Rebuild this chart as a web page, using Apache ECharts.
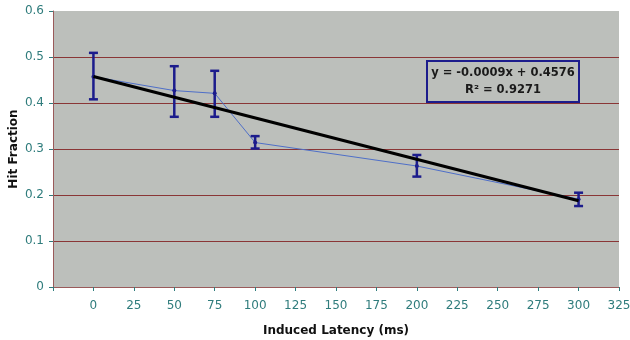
<!DOCTYPE html>
<html>
<head>
<meta charset="utf-8">
<script src="https://cdn.jsdelivr.net/npm/echarts@6/dist/echarts.min.js"></script>
<style>
  html, body { margin: 0; padding: 0; background: #fff; }
  #main { width: 630px; height: 340px; }
</style>
</head>
<body>
<div id="main"></div>
<script>
// latency values (ms) and measured hit fraction
const latency = [0, 50, 75, 100, 200, 300];
const hitFraction = [0.457, 0.427, 0.421, 0.314, 0.263, 0.191];
const errLow = [0.408, 0.370, 0.370, 0.301, 0.240, 0.176];
const errHigh = [0.509, 0.480, 0.470, 0.328, 0.287, 0.205];
// linear trend line endpoints
const trendX = [0, 300];
const trendY = [0.4576, 0.1876];
const equationText = ['y = -0.0009x + 0.4576', 'R² = 0.9271'];

const tealText = '#2f7c7c';
const gridRed = '#8a3636';

let myChart = echarts.init(document.getElementById('main'));

let option = {
  backgroundColor: '#fff',
  animation: false,
  grid: {
    left: 53,
    top: 11,
    right: 11,
    bottom: 53,
    outerBoundsMode: 'none',
    containLabel: false,
    show: true,
    backgroundColor: '#bcbfbb',
    borderWidth: 0
  },
  xAxis: {
    type: 'value',
    min: -25,
    max: 325,
    interval: 25,
    name: 'Induced Latency (ms)',
    nameLocation: 'middle',
    nameGap: 38,
    nameTextStyle: { fontFamily: 'DejaVu Sans', fontWeight: 'bold', fontSize: 12, color: '#111' },
    axisLine: { show: true, onZero: false, lineStyle: { color: '#9a5a5a', width: 1 } },
    axisTick: { show: true, length: 4, lineStyle: { color: tealText } },
    axisLabel: {
      margin: 13,
      color: tealText,
      fontFamily: 'DejaVu Sans',
      fontSize: 12,
      hideOverlap: false,
      formatter: function (v) { return v < 0 ? '' : String(v); }
    },
    splitLine: { show: false }
  },
  yAxis: {
    type: 'value',
    min: 0,
    max: 0.6,
    interval: 0.1,
    axisLine: { show: true, onZero: false, lineStyle: { color: '#9a5a5a', width: 1 } },
    axisTick: { show: true, length: 4, lineStyle: { color: tealText } },
    axisLabel: {
      margin: 9,
      color: tealText,
      fontFamily: 'DejaVu Sans',
      fontSize: 12,
      formatter: function (v) { return v === 0 ? '0' : v.toFixed(1); }
    },
    splitLine: { show: true, showMinLine: false, showMaxLine: false, lineStyle: { color: gridRed, width: 1 } }
  },
  graphic: [
    {
      // y axis title, placed by hand
      type: 'text',
      x: 14,
      y: 149,
      rotation: Math.PI / 2,
      style: {
        text: 'Hit Fraction',
        fill: '#111',
        font: 'bold 12px "DejaVu Sans"',
        align: 'center',
        verticalAlign: 'middle'
      }
    },
    {
      type: 'group',
      left: 426,
      top: 60,
      children: [
        {
          type: 'rect',
          shape: { x: 0, y: 0, width: 152, height: 41 },
          style: { fill: '#bcbfbb', stroke: '#1c1c8c', lineWidth: 2 }
        },
        {
          type: 'text',
          x: 76,
          y: 12,
          style: {
            text: equationText[0],
            fill: '#1a1a1a',
            font: 'bold 11.5px "DejaVu Sans"',
            align: 'center',
            verticalAlign: 'middle'
          }
        },
        {
          type: 'text',
          x: 76,
          y: 29,
          style: {
            text: equationText[1],
            fill: '#1a1a1a',
            font: 'bold 11.5px "DejaVu Sans"',
            align: 'center',
            verticalAlign: 'middle'
          }
        }
      ]
    }
  ],
  series: [
    {
      name: 'Hit Fraction',
      type: 'line',
      data: latency.map((x, i) => [x, hitFraction[i]]),
      symbol: 'circle',
      symbolSize: 4,
      itemStyle: { color: '#1c1c8c' },
      lineStyle: { color: '#4f6fc8', width: 1 },
      z: 3
    },
    {
      name: 'Error',
      type: 'custom',
      data: latency.map((x, i) => [x, errLow[i], errHigh[i]]),
      renderItem: function (params, api) {
        let x = api.value(0);
        let lo = api.coord([x, api.value(1)]);
        let hi = api.coord([x, api.value(2)]);
        let half = 4.5;
        let st = { stroke: '#1c1c8c', lineWidth: 2.5 };
        return {
          type: 'group',
          children: [
            { type: 'line', shape: { x1: hi[0], y1: hi[1], x2: lo[0], y2: lo[1] }, style: st },
            { type: 'line', shape: { x1: hi[0] - half, y1: hi[1], x2: hi[0] + half, y2: hi[1] }, style: st },
            { type: 'line', shape: { x1: lo[0] - half, y1: lo[1], x2: lo[0] + half, y2: lo[1] }, style: st }
          ]
        };
      },
      z: 4
    },
    {
      name: 'Trend',
      type: 'line',
      data: trendX.map((x, i) => [x, trendY[i]]),
      symbol: 'none',
      lineStyle: { color: '#000', width: 3 },
      z: 5
    }
  ]
};

myChart.setOption(option);
</script>
</body>
</html>
